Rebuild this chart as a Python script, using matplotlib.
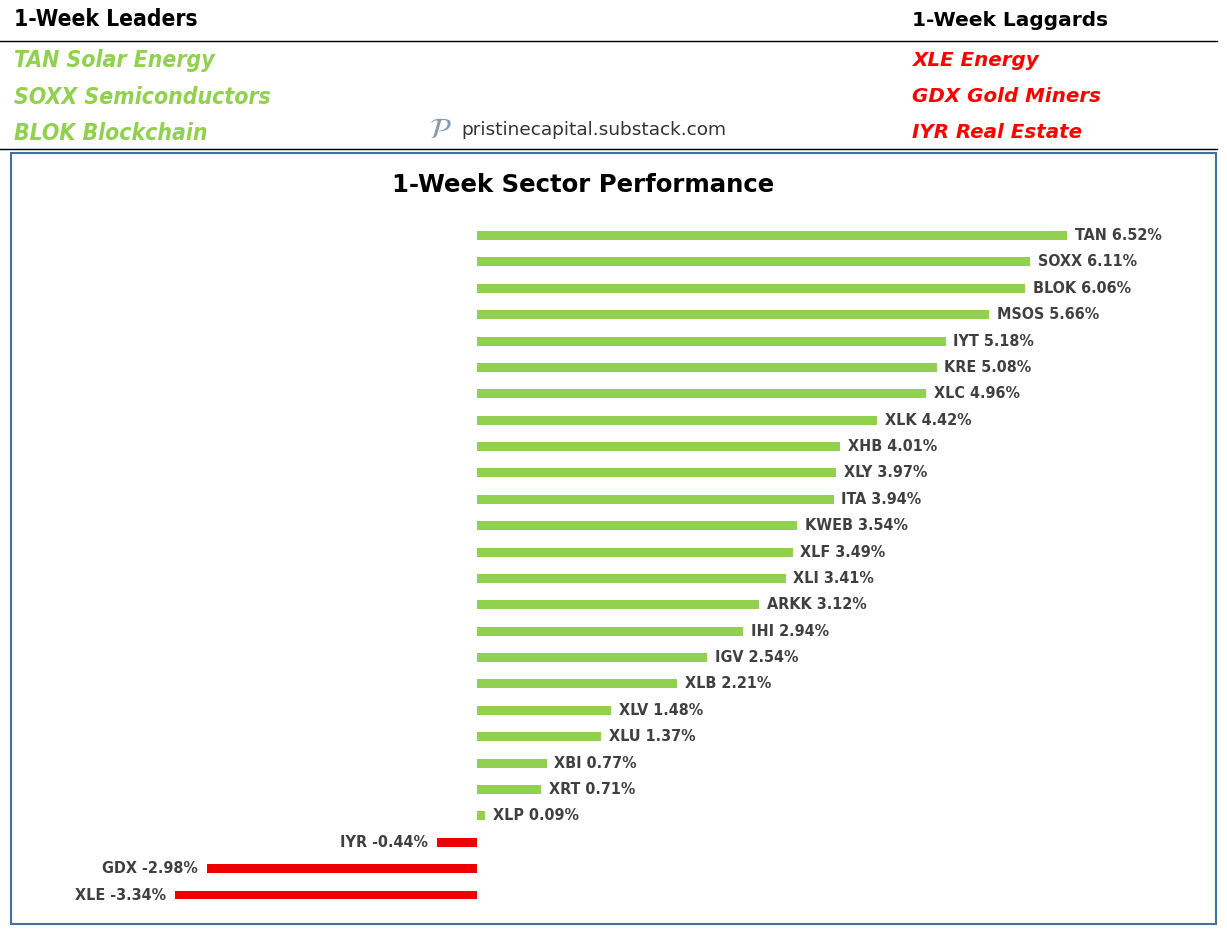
import matplotlib.pyplot as plt
from matplotlib.patches import Rectangle

# data
tickers = ["TAN", "SOXX", "BLOK", "MSOS", "IYT", "KRE", "XLC", "XLK", "XHB", "XLY",
           "ITA", "KWEB", "XLF", "XLI", "ARKK", "IHI", "IGV", "XLB", "XLV", "XLU",
           "XBI", "XRT", "XLP", "IYR", "GDX", "XLE"]
returns = [6.52, 6.11, 6.06, 5.66, 5.18, 5.08, 4.96, 4.42, 4.01, 3.97,
           3.94, 3.54, 3.49, 3.41, 3.12, 2.94, 2.54, 2.21, 1.48, 1.37,
           0.77, 0.71, 0.09, -0.44, -2.98, -3.34]
leaders = ["TAN Solar Energy", "SOXX Semiconductors", "BLOK Blockchain"]
laggards = ["XLE Energy", "GDX Gold Miners", "IYR Real Estate"]

GREEN = "#92D050"
RED = "#EE0000"
LABEL = "#404040"
NARROW = dict(family="DejaVu Sans", fontstretch="condensed")

W, H = 1227, 931
fig = plt.figure(figsize=(W / 100, H / 100), dpi=100)

# overlay axes in pixel coordinates for header and frame
bg = fig.add_axes([0, 0, 1, 1])
bg.set_xlim(0, W)
bg.set_ylim(H, 0)
bg.axis("off")

bg.text(14, 20, "1-Week Leaders", fontsize=16.4, fontweight="bold", va="center", **NARROW)
bg.text(912, 20, "1-Week Laggards", fontsize=14.5, fontweight="bold", va="center")
bg.plot([0, 1217], [40.5, 40.5], color="black", lw=1)
bg.plot([0, 1217], [148.5, 148.5], color="black", lw=1)
for i, (a, b) in enumerate(zip(leaders, laggards)):
    y = 61 + 36 * i
    bg.text(14, y, a, fontsize=16.5, fontweight="bold", style="italic", color=GREEN,
            va="center", **NARROW)
    bg.text(912, y, b, fontsize=14.3, fontweight="bold", style="italic", color="#FF0000",
            va="center")
bg.text(440, 130, "$\\mathcal{P}$", fontsize=21, color="#8899AA", ha="center", va="center")
bg.text(461, 130, "pristinecapital.substack.com", fontsize=13.3, color="#333333",
        va="center")
bg.add_patch(Rectangle((10.5, 152.5), 1205, 771, fill=False, ec="#41719C", lw=1.5))
bg.text(583, 185, "1-Week Sector Performance", fontsize=17.6, fontweight="bold",
        ha="center", va="center")

# bar axes: zero at x=477px, 90.5 px per percent; bars 26.38 px apart from y=235.5
left, right, top, bottom = 20, 1200, 210, 920
ax = fig.add_axes([left / W, 1 - bottom / H, (right - left) / W, (bottom - top) / H])
ax.set_xlim((left - 477) / 90.5, (right - 477) / 90.5)
ax.set_ylim((bottom - 235.5) / 26.38, (top - 235.5) / 26.38)
ax.axis("off")
ax.patch.set_alpha(0)

ypos = list(range(len(tickers)))
colors = [GREEN if v >= 0 else RED for v in returns]
ax.barh(ypos, returns, height=0.34, color=colors)
for y, t, v in zip(ypos, tickers, returns):
    lab = f"{t} {v:.2f}%"
    off = 5.5 if v >= 0 else -6.5
    ax.annotate(lab, (v, y), xytext=(off, 0), textcoords="offset points",
                ha="left" if v >= 0 else "right", va="center", fontsize=11.5,
                fontweight="bold", color=LABEL, **NARROW)

fig.savefig("out.png", dpi=100)
